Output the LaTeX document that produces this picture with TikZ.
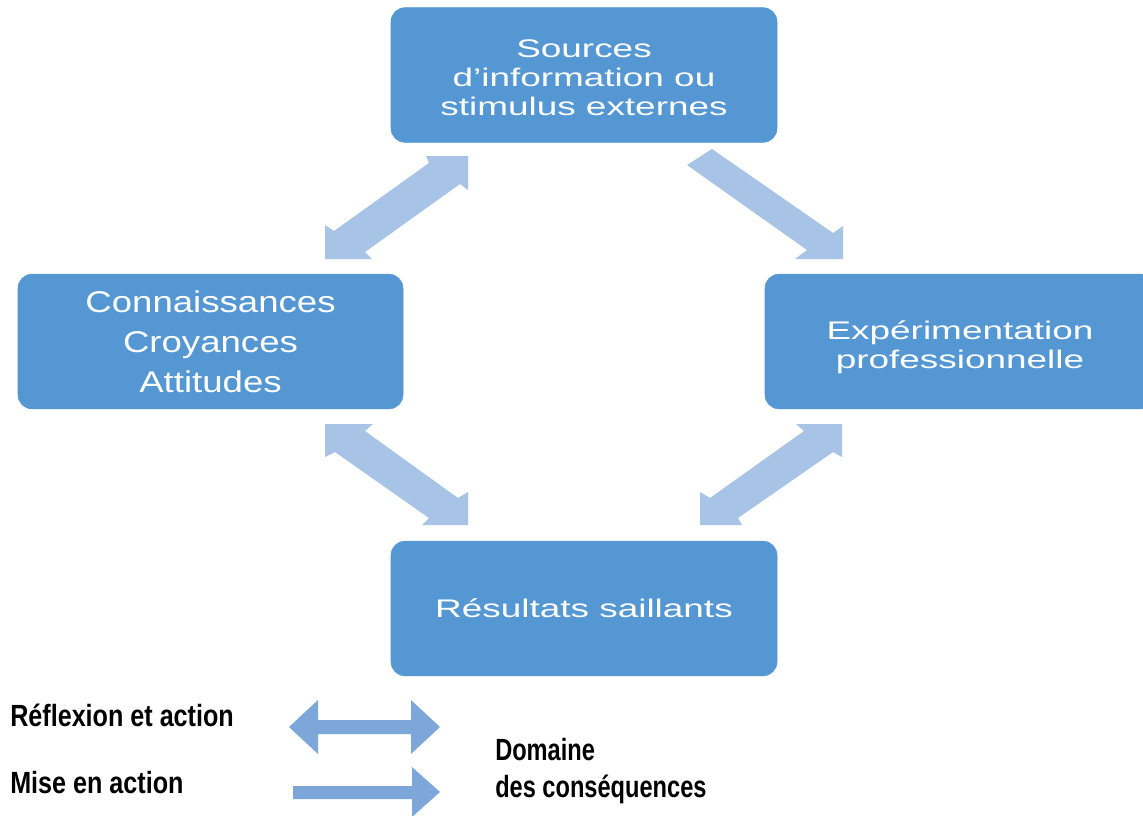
\documentclass[tikz,border=0pt]{standalone}
\usepackage{fontspec}
\newfontfamily\boxfont[FakeStretch=1.45]{Liberation Sans}
\newfontfamily\boxfontL[FakeStretch=1.22]{Liberation Sans}
\newfontfamily\legfont[FakeStretch=0.82]{Liberation Sans}
\newfontfamily\legfontB[FakeStretch=0.77]{Liberation Sans}
\definecolor{boxblue}{RGB}{84,151,211}
\definecolor{arrowblue}{RGB}{167,195,230}
\definecolor{legblue}{RGB}{125,167,217}
\tikzset{
  box/.style={rectangle, rounded corners=10.5pt, fill=boxblue, draw=boxblue,
    text=white, align=center, minimum width=289.5pt, minimum height=101pt,
    inner sep=0pt, font=\boxfont\fontsize{19.1pt}{21.75pt}\selectfont},
  boxL/.style={box, font=\boxfontL\fontsize{22.5pt}{30pt}\selectfont},
  blockarrow/.style={fill=arrowblue, draw=none},
  legarrow/.style={fill=legblue, draw=none},
  legtext/.style={inner sep=0pt, text=black, font=\legfont\bfseries\fontsize{23pt}{27.75pt}\selectfont}
}
\begin{document}
\begin{tikzpicture}[x=0.75pt, y=-0.75pt]
\useasboundingbox (0,0) rectangle (1143,815);
\clip (0,0) rectangle (1143,815);
\fill[white] (0,0) rectangle (1143,815);

% boxes
\node[box] (src) at (584,75) {\rule{0pt}{17pt}Sources\\d’information ou\\stimulus externes};
\node[boxL, minimum width=288.75pt] (con) at (210.5,341.5) {Connaissances\\Croyances\\Attitudes};
\node[box, minimum width=292.5pt] (exp) at (960,341.5) {\rule{0pt}{23pt}Expérimentation\\professionnelle};
\node[box] (res) at (584,608.5) {Résultats saillants};

% block arrows
\fill[blockarrow] (468,156) -- (468,190) -- (460,184) -- (365,252) -- (372,259) -- (325,259)
  -- (325,225) -- (334,231) -- (429,163) -- (426,156) -- cycle;
\fill[blockarrow] (712,149) -- (833,233) -- (843,226) -- (843,259) -- (795,259) -- (807,250)
  -- (687,165) -- cycle;
\fill[blockarrow] (325,424) -- (373,424) -- (365,431) -- (458,498) -- (468,492) -- (468,525)
  -- (422,525) -- (429,518) -- (335,452) -- (325,457) -- cycle;
\fill[blockarrow] (842,424) -- (842,457) -- (833,452) -- (738,518) -- (742,525) -- (700,525)
  -- (700,492) -- (710,498) -- (804,431) -- (796,424) -- cycle;

% legend
\node[legtext, anchor=base west] (l1) at (10,726) {Réflexion et action};
\node[legtext, anchor=base west] (l2) at (10,793) {Mise en action};
\node[legtext, anchor=west, align=left, font=\legfontB\bfseries\fontsize{23pt}{27.75pt}\selectfont] (l3) at (495,771.5) {Domaine\\des conséquences};
\fill[legarrow] (289,727) -- (318,700) -- (318,720) -- (411,720) -- (411,700) -- (440,727)
  -- (411,754) -- (411,734) -- (318,734) -- (318,754) -- cycle;
\fill[legarrow] (293,786) -- (412,786) -- (412,767) -- (440,792) -- (412,817) -- (412,799)
  -- (293,799) -- cycle;
\end{tikzpicture}
\end{document}
